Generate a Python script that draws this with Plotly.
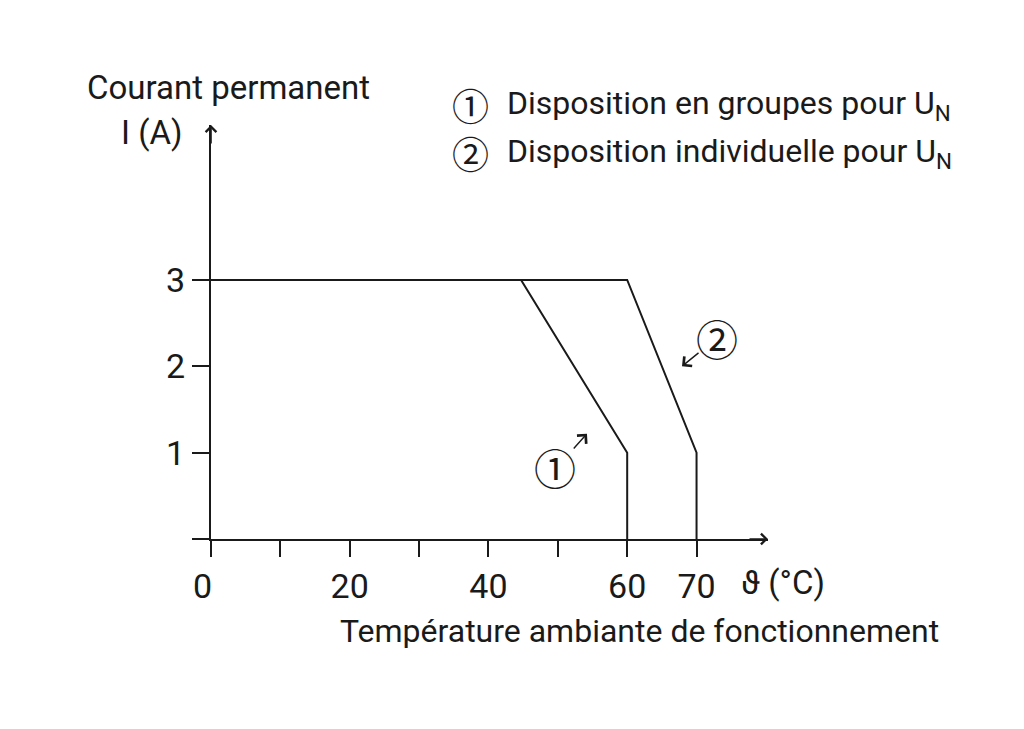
import plotly.graph_objects as go

# Data
curve1_x = [0, 44.7, 60, 60]
curve1_y = [3, 3, 1, 0]
curve2_x = [0, 60, 70, 70]
curve2_y = [3, 3, 1, 0]
x_tickvals = [0, 10, 20, 30, 40, 50, 60, 70]
x_ticktext = ["0\u00a0\u00a0", "", "20", "", "40", "", "60", "70"]
y_tickvals = [0, 1, 2, 3]
y_ticktext = ["", "1", "2", "3"]

FONT = "Roboto, sans-serif"
CJK = "Noto Sans CJK JP, sans-serif"
INK = "#1a1a1a"

fig = go.Figure()
for xs, ys in [(curve1_x, curve1_y), (curve2_x, curve2_y)]:
    fig.add_trace(go.Scatter(x=xs, y=ys, mode="lines",
                             line=dict(color=INK, width=2), showlegend=False,
                             hoverinfo="skip"))

fig.update_layout(
    width=1024, height=729,
    margin=dict(l=211, r=256, t=125, b=190),
    paper_bgcolor="white", plot_bgcolor="white",
    font=dict(family=FONT, color=INK, size=33),
    xaxis=dict(range=[0, 80.3], showgrid=False, zeroline=False,
               showline=True, linecolor=INK, linewidth=2,
               ticks="outside", ticklen=16, tickwidth=2, tickcolor=INK,
               tickvals=x_tickvals, ticktext=x_ticktext,
               tickfont=dict(size=34, family=FONT, color=INK)),
    yaxis=dict(range=[0, 4.795], showgrid=False, zeroline=False,
               showline=True, linecolor=INK, linewidth=2,
               ticks="outside", ticklen=17, tickwidth=2, tickcolor=INK,
               tickvals=y_tickvals, ticktext=y_ticktext,
               tickfont=dict(size=34, family=FONT, color=INK)),
)

def txt(x, y, t, size=33, xanchor="center", family=FONT, ref="paper"):
    return dict(xref=ref if ref == "paper" else "x", yref=ref if ref == "paper" else "y",
                x=x, y=y, text=t, showarrow=False, xanchor=xanchor, yanchor="middle",
                font=dict(size=size, family=family, color=INK))

ann = []
# axis arrowheads
ann.append(dict(xref="paper", yref="paper", x=1, y=0, ax=-20, ay=0,
                axref="pixel", ayref="pixel", text="", showarrow=True,
                arrowhead=4, arrowsize=1.3, arrowwidth=1.6, arrowcolor=INK))
ann.append(dict(xref="paper", yref="paper", x=0, y=1, ax=0, ay=20,
                axref="pixel", ayref="pixel", text="", showarrow=True,
                arrowhead=4, arrowsize=1.3, arrowwidth=1.6, arrowcolor=INK))
# labels (paper coords relative to plot area: x=(px-211)/557, y=(539.3-py)/414)
ann.append(txt(0.032, 1.09, "Courant permanent"))
ann.append(txt(-0.106, 0.982, "I (A)"))
ann.append(txt(0.465, 0.991, "①<br>②", size=37, family=CJK))
ann.append(txt(0.528, 1.049, "Disposition en groupes pour U<sub>N</sub>", size=32, xanchor="left"))
ann.append(txt(0.528, 0.933, "Disposition individuelle pour U<sub>N</sub>", size=32, xanchor="left"))
ann.append(txt(1.027, -0.105, "ϑ (°C)"))
ann.append(txt(0.770, -0.223, "Température ambiante de fonctionnement", size=32))
# curve markers
ann.append(txt(49.6, 0.84, "①", size=42, family=CJK, ref="data"))
ann.append(dict(xref="x", yref="y", x=54.2, y=1.22, ax=52.1, ay=1.03,
                axref="x", ayref="y", text="", showarrow=True,
                arrowhead=4, arrowsize=1.7, arrowwidth=1.4, arrowcolor=INK))
ann.append(txt(73.0, 2.33, "②", size=42, family=CJK, ref="data"))
ann.append(dict(xref="x", yref="y", x=67.9, y=2.0, ax=70.5, ay=2.17,
                axref="x", ayref="y", text="", showarrow=True,
                arrowhead=4, arrowsize=1.7, arrowwidth=1.4, arrowcolor=INK))
fig.update_layout(annotations=ann)

fig.write_html("out.html")
